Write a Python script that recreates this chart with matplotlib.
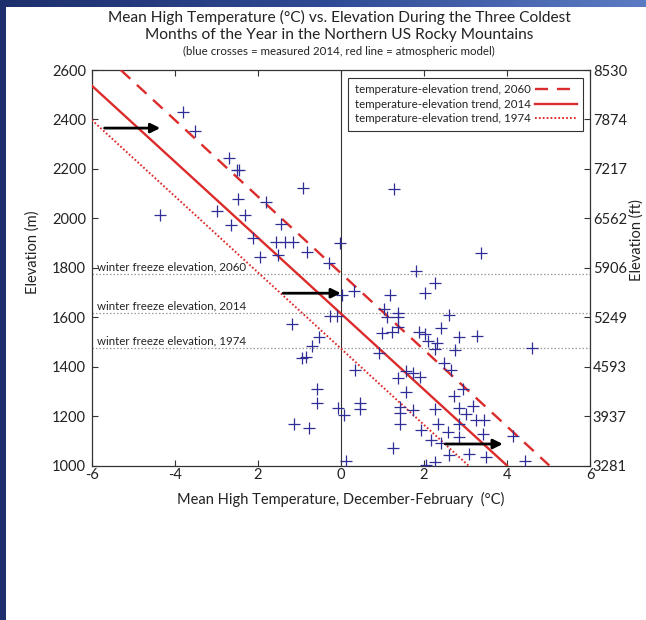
import matplotlib
matplotlib.use("Agg")
import matplotlib.pyplot as plt
import numpy as np
from matplotlib.lines import Line2D
from matplotlib.colors import LinearSegmentedColormap

plt.rcParams['font.family'] = ['Lato', 'DejaVu Sans']

# ---------------- data ----------------
measured_temp = [-3.80, -3.52, -2.69, -2.50, -2.45, -0.91, -2.48, -1.80, -4.35, -2.98,
                 -2.32, -2.64, -1.43, -2.11, -1.55, -1.35, -1.15, -0.03, -0.81, -1.94,
                 -1.51, -0.29, 1.27, 3.38, 1.81, 2.26, 0.31, 1.18, 2.03, 0.02,
                 1.05, 1.38, 1.11, 1.38, 2.61, 1.38, 2.40, 0.99, 1.22, 1.87,
                 2.03, 2.84, 3.28, 2.09, 2.32, 2.26, 2.76, 4.60, 0.93, 2.48,
                 0.33, 1.57, 1.74, 1.90, 1.37, 2.65, 2.93, 1.57, 2.72, 0.45,
                 0.45, 1.42, 1.42, 1.74, 2.26, 2.84, 3.02, 3.18, 3.26, 3.44,
                 0.08, 1.42, 2.34, 2.84, 1.93, 2.58, 2.84, 3.42, 4.15, 2.17,
                 2.42, 1.26, 2.60, 3.08, 3.50, 0.13, 2.06, 2.26, 4.43,
                 -1.18, -0.53, -0.69, -0.93, -0.84, -0.25, -0.09, -0.57, -0.57, -1.12,
                 -0.76, -0.07]
measured_elev = [2431, 2353, 2245, 2197, 2194, 2121, 2079, 2065, 2013, 2030,
                 2013, 1973, 1976, 1919, 1905, 1905, 1905, 1901, 1865, 1842,
                 1852, 1818, 2117, 1858, 1788, 1737, 1706, 1689, 1699, 1689,
                 1632, 1616, 1602, 1600, 1610, 1561, 1557, 1535, 1540, 1539,
                 1532, 1521, 1524, 1504, 1497, 1470, 1467, 1477, 1456, 1413,
                 1386, 1382, 1376, 1357, 1353, 1386, 1310, 1296, 1281, 1252,
                 1227, 1238, 1214, 1225, 1229, 1231, 1208, 1242, 1184, 1184,
                 1204, 1167, 1167, 1167, 1144, 1137, 1117, 1126, 1121, 1103,
                 1092, 1072, 1042, 1047, 1036, 1018, 1002, 1015, 1018,
                 1571, 1519, 1485, 1434, 1440, 1606, 1606, 1310, 1252, 1168,
                 1150, 1231]

trend_2060_temp = [-5.30, 5.02]
trend_2060_elev = [2600, 1000]
trend_2014_temp = [-6.0, 4.0]
trend_2014_elev = [2537, 1000]
trend_1974_temp = [-6.0, 3.07]
trend_1974_elev = [2398, 1000]

freeze_years = ['2060', '2014', '1974']
freeze_elev = [1775, 1618, 1474]

arrow_tail_temp = [-5.69, -1.39, 2.52]
arrow_head_temp = [-4.35, 0.0, 3.90]
arrow_elev = [2365, 1697, 1087]

x_ticks = [-6, -4, -2, 0, 2, 4, 6]
x_tick_labels = ['-6', '-4', '2', '0', '2', '4', '6']
y_ticks = [1000, 1200, 1400, 1600, 1800, 2000, 2200, 2400, 2600]
y_ticks_ft = ['3281', '3937', '4593', '5249', '5906', '6562', '7217', '7874', '8530']

RED = '#dc2b2b'
BLUE = '#2e2e96'
TXT = '#222222'
SP = '#333333'

# ---------------- figure ----------------
fig = plt.figure(figsize=(6.46, 6.20), dpi=100, facecolor='white')

# blue frame
bg_top = fig.add_axes([0, 1 - 7 / 620, 1, 7 / 620])
grad = np.linspace(0, 1, 256).reshape(1, -1)
cm = LinearSegmentedColormap.from_list('bb', ['#1e2f6c', '#2f4a94', '#5b7cc4'])
bg_top.imshow(grad, aspect='auto', cmap=cm, extent=[0, 1, 0, 1])
bg_top.axis('off')
bg_left = fig.add_axes([0, 0, 6 / 646, 1])
bg_left.set_facecolor('#1e2f6e')
bg_left.set_xticks([]); bg_left.set_yticks([])
for s in bg_left.spines.values():
    s.set_visible(False)

ax = fig.add_axes([91.7 / 646, 1 - 465.5 / 620, (590 - 91.7) / 646, (465.5 - 70) / 620])
ax.set_xlim(-6, 6)
ax.set_ylim(1000, 2600)

# winter freeze lines
for yr, e in zip(freeze_years, freeze_elev):
    ax.axhline(e, color='#9a9a9a', lw=0.9, ls=(0, (1.2, 1.6)), zorder=1)
    ax.text(-5.87, e + 6, 'winter freeze elevation, ' + yr, fontsize=8.3,
            color=TXT, va='bottom', ha='left', zorder=2)

# vertical zero line
ax.axvline(0, color=SP, lw=0.8, zorder=1)

# trend lines
ax.plot(trend_2060_temp, trend_2060_elev, color=RED, lw=1.7,
        dashes=(5.5, 3.8), zorder=3)
ax.plot(trend_2014_temp, trend_2014_elev, color=RED, lw=1.7, zorder=3)
ax.plot(trend_1974_temp, trend_1974_elev, color=RED, lw=1.4,
        ls=(0, (0.9, 1.1)), zorder=3)

# measured points
ax.plot(measured_temp, measured_elev, ls='none', marker='+', ms=9, mew=0.9,
        color=BLUE, zorder=4)

# arrows
for t0, t1, e in zip(arrow_tail_temp, arrow_head_temp, arrow_elev):
    ax.annotate('', xy=(t1, e), xytext=(t0, e),
                arrowprops=dict(arrowstyle='-|>', color='black', lw=2.0,
                                mutation_scale=14, shrinkA=0, shrinkB=0),
                zorder=5)

# legend
handles = [Line2D([], [], color=RED, lw=1.7, dashes=(5.5, 3.8)),
           Line2D([], [], color=RED, lw=1.7),
           Line2D([], [], color=RED, lw=1.4, ls=(0, (0.9, 1.1)))]
labels = ['temperature-elevation trend, 2060',
          'temperature-elevation trend, 2014',
          'temperature-elevation trend, 1974']
leg = ax.legend(handles, labels, loc='upper right', bbox_to_anchor=(0.986, 0.98),
                borderaxespad=0, markerfirst=False, fontsize=8.3, handlelength=3.6,
                handletextpad=0.4, labelspacing=0.3, fancybox=False, framealpha=1,
                edgecolor=SP, borderpad=0.55)
leg.get_frame().set_linewidth(0.8)
for t in leg.get_texts():
    t.set_color(TXT)

# axes styling
ax.set_xticks(x_ticks)
ax.set_xticklabels(x_tick_labels)
ax.set_yticks(y_ticks)
ax.tick_params(direction='in', length=4, width=0.8, color=SP, labelsize=10.5,
               labelcolor=TXT, top=True)
ax.tick_params(axis='x', pad=2)
ax.tick_params(axis='y', pad=4)
for s in ax.spines.values():
    s.set_color(SP)
    s.set_linewidth(0.9)
ax.set_xlabel('Mean High Temperature, December-February  (°C)', fontsize=10.5,
              color=TXT, labelpad=7)
ax.set_ylabel('Elevation (m)', fontsize=10.5, color=TXT, va='center')
ax.yaxis.set_label_coords((33 - 91.7) / 498.3, 0.54)

ax2 = ax.twinx()
ax2.set_ylim(1000, 2600)
ax2.set_yticks(y_ticks)
ax2.set_yticklabels(y_ticks_ft)
ax2.tick_params(direction='in', length=4, width=0.8, color=SP, labelsize=10.5,
                labelcolor=TXT, pad=2)
for s in ax2.spines.values():
    s.set_visible(False)
ax2.set_ylabel('Elevation (ft)', fontsize=10.5, color=TXT, va='center', rotation=90)
ax2.yaxis.set_label_coords((637 - 91.7) / 498.3, 0.57)

# titles
fig.text(0.525, 1 - 17 / 620, 'Mean High Temperature (°C) vs. Elevation During the Three Coldest',
         ha='center', va='center', fontsize=11.2, color=TXT)
fig.text(0.525, 1 - 35 / 620, 'Months of the Year in the Northern US Rocky Mountains',
         ha='center', va='center', fontsize=11.2, color=TXT)
fig.text(0.525, 1 - 51 / 620, '(blue crosses = measured 2014, red line = atmospheric model)',
         ha='center', va='center', fontsize=8.3, color=TXT)

fig.savefig('out.png', dpi=100, facecolor='white')
